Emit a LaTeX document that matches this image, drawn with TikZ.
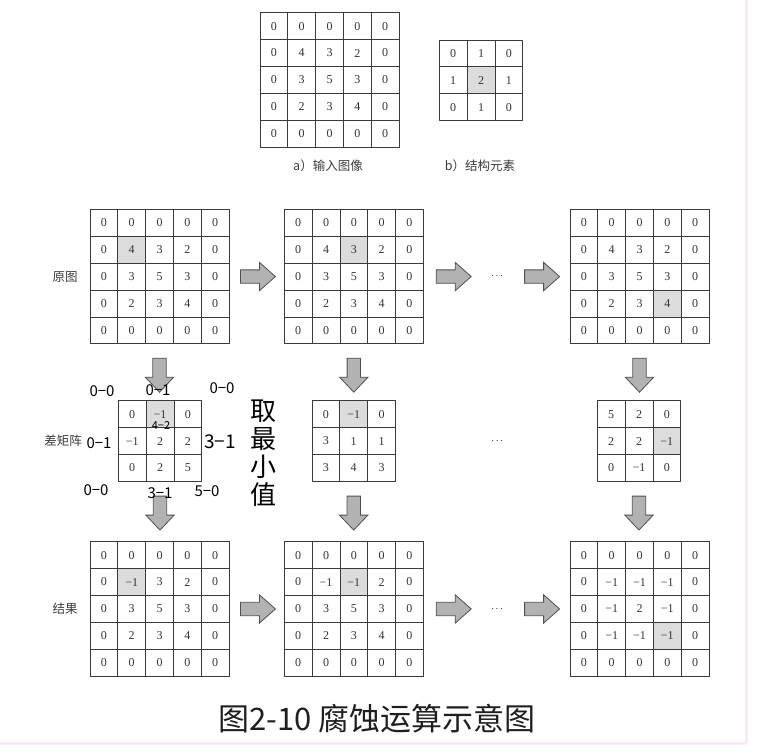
\documentclass[tikz,border=0pt]{standalone}
\usepackage{fontspec}
\setmainfont{Liberation Serif}
\newfontfamily\cjk{Noto Sans CJK SC}
\usetikzlibrary{calc}

\definecolor{gridline}{HTML}{3A3A3A}
\definecolor{numtext}{HTML}{333333}
\definecolor{hlgray}{HTML}{DCDCDC}
\definecolor{arrowgray}{HTML}{B2B2B2}
\definecolor{arrowedge}{HTML}{505050}
\definecolor{labeltext}{HTML}{3C3C3C}
\definecolor{framepink}{HTML}{F5EBF5}

% Размер клетки
\newcommand{\cw}{27.8}
\newcommand{\ch}{26.9}

% Таблица чисел: имя, левый край, верх, выделенная строка, столбец, строки
\newcommand{\numgrid}[6]{%
  \ifnum#4>0
    \fill[hlgray] ({#2+(#5-1)*\cw},{#3+(#4-1)*\ch}) rectangle ++(\cw,\ch);
  \fi
  \foreach \rowvals [count=\ri] in {#6} {
    \foreach \val [count=\ci] in \rowvals {
      \node[cell] (#1-\ri-\ci) at ({#2+(\ci-0.5)*\cw},{#3+(\ri-0.5)*\ch}) {\val};
    }
  }
}

% Толстые стрелки
\newcommand{\rightblock}[1]{%
  \draw[blockarrow] #1 ++(0,-6.7) -- ++(19,0) -- ++(0,-7.5) -- ++(16,14.2)
    -- ++(-16,14.2) -- ++(0,-7.5) -- ++(-19,0) -- cycle;}
\newcommand{\downblock}[1]{%
  \draw[blockarrow] #1 ++(-6.7,0) -- ++(0,19) -- ++(-7.5,0) -- ++(14.2,15)
    -- ++(14.2,-15) -- ++(-7.5,0) -- ++(0,-19) -- cycle;}

\begin{document}
\begin{tikzpicture}[
    x=1pt,
    y=-1pt,
    line cap=round,
    line join=round,
    cell/.style={
        draw=gridline,
        line width=0.8pt,
        minimum width=\cw pt,
        minimum height=\ch pt,
        inner sep=0pt,
        text=numtext,
        font=\fontsize{12}{12}\selectfont
    },
    blockarrow/.style={
        fill=arrowgray,
        draw=arrowedge,
        line width=0.8pt,
        line join=miter
    },
    rowlabel/.style={
        text=labeltext,
        font=\cjk\fontsize{12.5}{14}\selectfont
    },
    hand/.style={
        text=black,
        font=\cjk\fontsize{15}{16}\selectfont
    }
]

\useasboundingbox (0,0) rectangle (771,752);

% =================================================
% Рамка страницы
% =================================================

\draw[framepink, line width=2.6pt, line cap=butt]
    (746.7,0) -- (746.7,743.5) -- (0,743.5);

% =================================================
% a) входное изображение, b) структурный элемент
% =================================================

\numgrid{input}{260}{12.7}{0}{0}{{0,0,0,0,0},{0,4,3,2,0},{0,3,5,3,0},{0,2,3,4,0},{0,0,0,0,0}}
\numgrid{kernel}{439.3}{40}{2}{2}{{0,1,0},{1,2,1},{0,1,0}}

\node[rowlabel] (capA) at (328,166) {a{\cjk ）输入图像}};
\node[rowlabel] (capB) at (480,166) {b{\cjk ）结构元素}};

% =================================================
% Исходные изображения
% =================================================

\numgrid{orig1}{90}{209.3}{2}{2}{{0,0,0,0,0},{0,4,3,2,0},{0,3,5,3,0},{0,2,3,4,0},{0,0,0,0,0}}
\numgrid{orig2}{284.3}{209.3}{2}{3}{{0,0,0,0,0},{0,4,3,2,0},{0,3,5,3,0},{0,2,3,4,0},{0,0,0,0,0}}
\numgrid{orig3}{570}{209.3}{4}{4}{{0,0,0,0,0},{0,4,3,2,0},{0,3,5,3,0},{0,2,3,4,0},{0,0,0,0,0}}

\node[rowlabel] (labOrig) at (65,277) {原图};

\rightblock{($(orig1-3-5.east)+(11,0)$)}
\rightblock{($(orig2-3-5.east)+(12.5,0)$)}
\node (dotsOrig) at ($(orig2-3-5.east)+(73.4,0)$) {$\cdots$};
\rightblock{($(orig3-3-1.west)+(-45,0)$)}

% =================================================
% Разностные матрицы
% =================================================

\downblock{($(orig1-5-3.south)+(0,14)$)}
\downblock{($(orig2-5-3.south)+(0,14)$)}
\downblock{($(orig3-5-3.south)+(0,14)$)}

\numgrid{diff1}{118.3}{400.7}{1}{2}{{0,−1,0},{−1,2,2},{0,2,5}}
\numgrid{diff2}{312}{400.7}{1}{2}{{0,−1,0},{3,1,1},{3,4,3}}
\numgrid{diff3}{597.3}{400.7}{2}{3}{{5,2,0},{2,2,−1},{0,−1,0}}

\node[rowlabel] (labDiff) at (63,441) {差矩阵};
\node (dotsDiff) at ($(diff2-2-3.east)+(101.4,0)$) {$\cdots$};

% =================================================
% Результаты
% =================================================

\downblock{($(diff1-3-2.south)+(0,14.3)$)}
\downblock{($(diff2-3-2.south)+(0,14.3)$)}
\downblock{($(diff3-3-2.south)+(0,14.3)$)}

\numgrid{res1}{90}{541.7}{2}{2}{{0,0,0,0,0},{0,−1,3,2,0},{0,3,5,3,0},{0,2,3,4,0},{0,0,0,0,0}}
\numgrid{res2}{284.3}{541.7}{2}{3}{{0,0,0,0,0},{0,−1,−1,2,0},{0,3,5,3,0},{0,2,3,4,0},{0,0,0,0,0}}
\numgrid{res3}{570}{541.7}{4}{4}{{0,0,0,0,0},{0,−1,−1,−1,0},{0,−1,2,−1,0},{0,−1,−1,−1,0},{0,0,0,0,0}}

\node[rowlabel] (labRes) at (65,609) {结果};

\rightblock{($(res1-3-5.east)+(11,0)$)}
\rightblock{($(res2-3-5.east)+(12.5,0)$)}
\node (dotsRes) at ($(res2-3-5.east)+(73.4,0)$) {$\cdots$};
\rightblock{($(res3-3-1.west)+(-45,0)$)}

% =================================================
% Рукописные пометки
% =================================================

\node[hand] (hwTopL) at (102,391) {0−0};
\node[hand] (hwTopM) at (158,390) {0−1};
\node[hand] (hwTopR) at (222,388) {0−0};
\node[hand, font=\cjk\fontsize{11}{12}\selectfont] (hwMid) at (161,426) {4−2};
\node[hand] (hwMidL) at (99,443) {0−1};
\node[hand, font=\cjk\fontsize{19}{20}\selectfont] (hwMidR) at (220,442) {3−1};
\node[hand] (hwBotL) at (96,490) {0−0};
\node[hand] (hwBotM) at (160,493) {3−1};
\node[hand] (hwBotR) at (207,491) {5−0};
\node[hand, align=center, font=\cjk\fontsize{26}{28}\selectfont] (hwMin) at (263,453) {取\\最\\小\\值};

% =================================================
% Подпись
% =================================================

\node[text=black!88, font=\cjk\fontsize{31}{34}\selectfont] (title) at (377,719) {图2-10 腐蚀运算示意图};

\end{tikzpicture}
\end{document}
